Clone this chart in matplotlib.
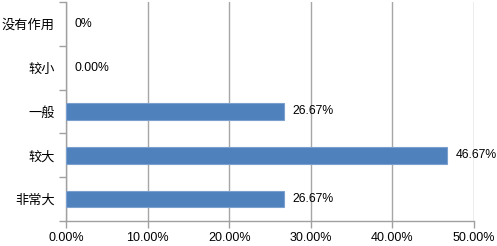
import matplotlib.pyplot as plt
from matplotlib.ticker import MultipleLocator, FuncFormatter

# 数据
categories = ['没有作用', '较小', '一般', '较大', '非常大']
values = [0.0, 0.0, 26.67, 46.67, 26.67]
labels = ['0%', '0.00%', '26.67%', '46.67%', '26.67%']

plt.rcParams['font.family'] = ['Liberation Sans', 'Noto Sans CJK SC', 'DejaVu Sans']

fig = plt.figure(figsize=(4.97, 2.46), dpi=100)
ax = fig.add_axes([66 / 497, 1 - 221 / 246, (474 - 66) / 497, 219 / 246])

pos = list(range(len(categories)))[::-1]
lw = [0.8 if v > 0 else 0 for v in values]
ax.barh(pos, values, height=0.38, color='#4F81BD', edgecolor='#7BA0CD', linewidth=lw, zorder=3)

for p, v, lab in zip(pos, values, labels):
    ax.text(v + 1.1, p, lab, va='center', ha='left', fontsize=8.8, color='black')

ax.set_xlim(0, 50)
ax.set_ylim(-0.5, 4.5)
ax.xaxis.set_major_locator(MultipleLocator(10))
ax.xaxis.set_major_formatter(FuncFormatter(lambda x, _: f'{x:.2f}%'))
ax.set_yticks(pos)
ax.set_yticklabels(categories, fontsize=9.5, fontfamily=['Noto Sans CJK SC', 'DejaVu Sans'])
ax.set_yticks([p + 0.5 for p in range(-1, 5)], minor=True)
ax.tick_params(axis='y', which='major', length=0, pad=8)
ax.tick_params(axis='y', which='minor', length=5, color='#A0A0A0', width=1)
ax.tick_params(axis='x', length=5, color='#A0A0A0', width=1, labelsize=9, pad=3)

ax.grid(axis='x', color='#A6A6A6', linewidth=1, zorder=0)
for side in ['top', 'right']:
    ax.spines[side].set_visible(False)
for side in ['left', 'bottom']:
    ax.spines[side].set_color('#A0A0A0')
    ax.spines[side].set_linewidth(1)

fig.savefig('out.png', dpi=100)
